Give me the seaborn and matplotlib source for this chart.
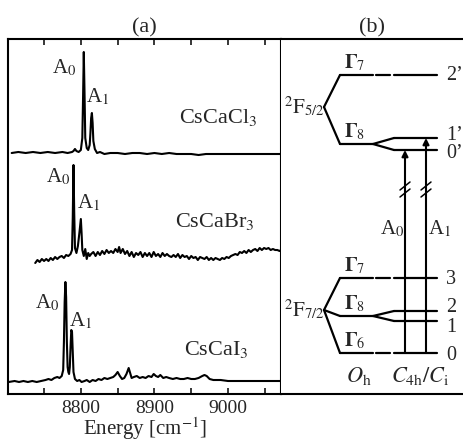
import numpy as np
import pandas as pd
import matplotlib
matplotlib.use('Agg')
import matplotlib.pyplot as plt
import seaborn as sns

# ---- spectra: energy (cm-1) and intensity above each trace's own baseline (a.u.)
cl_energy = [8706, 8715, 8725, 8735, 8745, 8755, 8765, 8775,
             8782, 8788, 8790, 8792, 8794, 8797, 8800,
             8802, 8803, 8804, 8805, 8806,
             8808, 8810, 8812, 8813, 8814, 8815, 8816, 8817, 8819,
             8822, 8826, 8832, 8840, 8850,
             8860, 8870, 8880, 8890, 8900, 8910, 8920, 8930, 8940, 8950,
             8960, 8970, 8980, 8990, 9000, 9010, 9020, 9030, 9040, 9050, 9060,
             9072]
cl_int = [0, 1, 0, 1, 0, 1, 0, 1,
          0, 1, 2, 4, 2, 1, 3,
          15, 55, 101, 60, 15,
          5, 3, 8, 20, 35, 40, 30, 12, 4,
          0, 1, -1, 0, 0,
          -1, 0, 0, -1, 0, -1, 0, -1, -1, -1,
          -2, -1, -1, -1, -1, -1, -1, -1, -1, -1, -1,
          -1]

br_energy = [8738, 8741, 8744, 8747, 8750, 8753, 8756, 8759, 8762, 8765, 8768, 8771, 8774, 8777, 8780, 8783, 8786,
             8788, 8789, 8790, 8791, 8792,
             8794, 8796, 8798, 8800, 8801, 8802, 8804, 8806, 8808, 8810, 8812, 8814,
             8817, 8820, 8823, 8826, 8829, 8832, 8835, 8838, 8841, 8844, 8847, 8850,
             8852, 8854,
             8857, 8860, 8863, 8866, 8869, 8872, 8875, 8878, 8881, 8884,
             8887, 8890, 8893, 8896, 8899, 8902, 8905, 8908, 8911, 8914,
             8917, 8920, 8923, 8926, 8929, 8932, 8935, 8938, 8941, 8944,
             8947, 8950, 8953, 8956, 8959, 8962, 8965, 8968, 8971, 8974,
             8977, 8980, 8983, 8986, 8989, 8992, 8995, 8998, 9001, 9004,
             9007, 9010, 9013, 9016, 9019, 9022, 9025, 9028, 9031, 9034,
             9037, 9040, 9043, 9046, 9049, 9052, 9055, 9058, 9061, 9064,
             9067, 9070,
             9072]
br_int = [-5, -2, -4, -1, -3, -1, -3, 0, -2, 1, -1, 1, 2, 0, 3, 2, 4,
          8, 40, 93, 45, 10,
          5, 12, 25, 39, 25, 8, 2, 9, -1, 5, 2, 4,
          6, 2, 6, 3, 7, 4, 8, 5, 7, 5, 9, 6,
          11, 5,
          9, 4, 7, 2, 6, 1, 5, 3, 6, 1,
          5, 2, 5, 1, 6, 2, 4, 1, 5, 2,
          4, 2, 1, 3, 1, 4, 0, 3, 1, 2,
          -1, 2, 0, 1, -2, 1, 0, -1, 1, -2,
          0, -2, 0, -1, -2, 0, -1, 1, 0, 2,
          3, 4, 3, 6, 5, 7, 5, 8, 6, 8,
          9, 7, 10, 8, 10, 9, 10, 8, 9, 8,
          8, 7,
          8]

i_energy = [8702, 8710, 8716, 8722, 8728, 8734, 8740, 8746, 8752, 8756,
            8760, 8764, 8768, 8771, 8774, 8776, 8777, 8778, 8779, 8780,
            8781, 8782, 8783, 8784, 8785, 8786, 8787, 8788, 8789, 8790,
            8792, 8795, 8798, 8801, 8805, 8808, 8812, 8816, 8820, 8824,
            8828, 8832, 8836, 8840, 8844, 8847, 8850, 8853, 8856, 8859,
            8862, 8865, 8867, 8869, 8872, 8876, 8880, 8884, 8888, 8892,
            8896, 8899, 8902, 8905, 8908, 8912, 8916, 8920, 8925, 8930,
            8935, 8940, 8945, 8950, 8955, 8960, 8965, 8968, 8971, 8975,
            8980, 8990, 9000, 9010, 9020, 9030, 9040, 9050, 9060, 9072]
i_int = [0, 1, 0, 1, 0, 1, 0, 1, 2, 3,
         2, 4, 5, 4, 6, 12, 40, 80, 100, 85,
         40, 15, 10, 8, 15, 35, 52, 50, 30, 10,
         3, 1, 2, 0, 1, 2, 0, 2, 1, 3,
         2, 4, 3, 4, 5, 7, 10, 6, 3, 4,
         8, 14, 9, 4, 5, 6, 4, 5, 4, 6,
         5, 8, 6, 5, 7, 4, 5, 4, 3, 4,
         3, 3, 4, 3, 3, 4, 6, 7, 6, 3,
         2, 2, 1, 1, 1, 1, 1, 1, 1, 1]

compounds = ['CsCa' + 'Cl$_3$', 'CsCa' + 'Br$_3$', 'CsCa' + 'I$_3$']
offsets = [241, 136, 12]   # vertical stacking of the traces

# ---- level scheme (panel b), energies in arbitrary units
manifold_names = [r'$^2\mathrm{F}_{5/2}$', r'$^2\mathrm{F}_{7/2}$']
manifold_centers = [287, 84]
oh_names = [r'$\mathbf{\Gamma}_7$', r'$\mathbf{\Gamma}_8$',
            r'$\mathbf{\Gamma}_7$', r'$\mathbf{\Gamma}_8$', r'$\mathbf{\Gamma}_6$']
oh_levels = [319, 250, 116, 78, 41]
oh_manifold = [0, 0, 1, 1, 1]
c4h_names = ['2\u2019', '1\u2019', '0\u2019', '3', '2', '1', '0']
c4h_levels = [319, 256, 244, 116, 83, 73, 41]
c4h_parent = [0, 1, 1, 2, 3, 3, 4]
trans_names = ['A$_0$', 'A$_1$']
trans_lower = [41, 41]
trans_upper = [244, 256]

sns.set_style('ticks')
plt.rcParams['font.family'] = ['Liberation Serif', 'DejaVu Serif']
plt.rcParams['mathtext.fontset'] = 'stix'

fig = plt.figure(figsize=(4.64, 4.41), dpi=100)
ax_a = fig.add_axes([8 / 464, 47 / 441, 273 / 464, 355 / 441])
ax_b = fig.add_axes([281 / 464, 47 / 441, 182 / 464, 355 / 441])

# ---- panel (a): spectra
spectra = [(cl_energy, cl_int), (br_energy, br_int), (i_energy, i_int)]
for (e, v), off in zip(spectra, offsets):
    df = pd.DataFrame({'Energy': e, 'Intensity': np.array(v) + off})
    sns.lineplot(data=df, x='Energy', y='Intensity', ax=ax_a, color='black',
                 lw=1.5, sort=False, estimator=None)

ax_a.set_xlim(8701, 9072)
ax_a.set_ylim(0, 355)
ax_a.set_xticks([8800, 8900, 9000])
ax_a.set_xticks([8750, 8850, 8950, 9050], minor=True)
ax_a.set_yticks([])
ax_a.tick_params(which='both', direction='in', length=4, width=1.3, top=True,
                 labelsize=14, pad=4)
ax_a.set_xlabel('Energy [cm$^{-1}$]', fontsize=15, labelpad=-1)
ax_a.set_ylabel('')
ax_a.set_title('(a)', fontsize=16, pad=5)
for s in ax_a.spines.values():
    s.set_linewidth(1.5)
    s.set_color('black')

# peak and compound labels
a0_pos = [(8777, 326), (8769, 217), (8754, 91)]
a1_pos = [(8823, 297), (8811, 191), (8799, 73)]
name_pos = [(8986, 276), (8982, 172), (8984, 44)]
for k in range(3):
    ax_a.text(*a0_pos[k], 'A$_0$', fontsize=15, ha='center', va='center')
    ax_a.text(*a1_pos[k], 'A$_1$', fontsize=15, ha='center', va='center')
    ax_a.text(*name_pos[k], compounds[k], fontsize=16, ha='center', va='center')

# ---- panel (b): level diagram
ax_b.set_xlim(0, 182)
ax_b.set_ylim(0, 355)
ax_b.set_xticks([])
ax_b.set_yticks([])
ax_b.set_title('(b)', fontsize=16, pad=5)
ax_b.spines['left'].set_visible(False)
for side in ['top', 'bottom']:
    ax_b.spines[side].set_linewidth(1.5)
    ax_b.spines[side].set_color('black')
ax_b.spines['right'].set_linewidth(0.7)
ax_b.spines['right'].set_color('0.45')

x_vertex, x_oh0, x_oh1, x_c0, x_c1, x_lab = 43, 59, 92, 113, 156, 165
lw = 1.6
for name, yc in zip(manifold_names, manifold_centers):
    ax_b.text(x_vertex - 20, yc, name, fontsize=15, ha='center', va='center')

for k, (name, y) in enumerate(zip(oh_names, oh_levels)):
    yc = manifold_centers[oh_manifold[k]]
    ax_b.plot([x_vertex, x_oh0], [yc, y], color='k', lw=lw, solid_capstyle='round')
    ax_b.plot([x_oh0, x_oh1], [y, y], color='k', lw=lw)
    ax_b.text((x_oh0 + x_oh1) / 2 - 2, y + 12, name, fontsize=14.5, ha='center', va='center')

label_nudge = [0, 3, -4, -2, 4, -6, -2]
for k, (name, y) in enumerate(zip(c4h_names, c4h_levels)):
    p = c4h_parent[k]
    n_children = c4h_parent.count(p)
    if n_children == 1:
        ax_b.plot([x_oh1 + 3, x_c0 - 4], [y, y], color='k', lw=lw)
    else:
        ax_b.plot([x_oh1, x_c0], [oh_levels[p], y], color='k', lw=lw)
    ax_b.plot([x_c0, x_c1], [y, y], color='k', lw=lw)
    ax_b.text(x_lab, y + label_nudge[k], name, fontsize=14.5, ha='left', va='center')

trans_x = [124, 145]
for k in range(2):
    x = trans_x[k]
    ax_b.annotate('', xy=(x, trans_upper[k]), xytext=(x, trans_lower[k]),
                  arrowprops=dict(arrowstyle='-|>', lw=1.5, color='k',
                                  mutation_scale=9, shrinkA=0, shrinkB=0))
    for dy in (201, 208):
        ax_b.plot([x - 5, x + 5], [dy - 4, dy + 4], color='k', lw=1.1)
    if k == 0:
        ax_b.text(x - 13, 165, trans_names[k], fontsize=15, ha='center', va='center')
    else:
        ax_b.text(x + 14, 165, trans_names[k], fontsize=15, ha='center', va='center')

ax_b.text(78, 18, r'$O_\mathrm{h}$', fontsize=16, ha='center', va='center')
ax_b.text(139, 18, r'$C_\mathrm{4h}/C_\mathrm{i}$', fontsize=16, ha='center', va='center')

fig.savefig('out.png', dpi=100)
